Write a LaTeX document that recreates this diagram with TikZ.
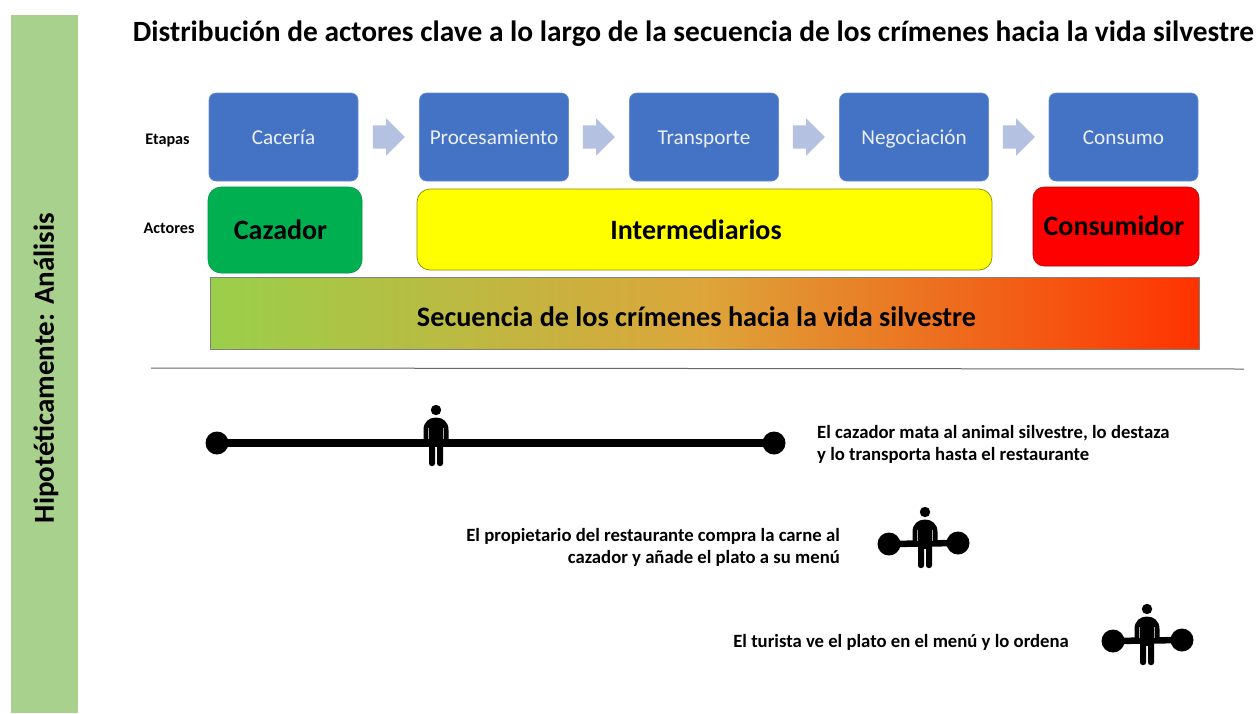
\documentclass[tikz,border=0pt]{standalone}
\usepackage{fontspec}
\setmainfont{Carlito}
\usetikzlibrary{shapes.arrows}
\definecolor{barG}{HTML}{A9D18E}
\definecolor{stageB}{HTML}{4472C4}
\definecolor{arrB}{HTML}{B4C1E1}
\definecolor{greenA}{HTML}{00B050}
\definecolor{redA}{HTML}{FF0000}
\definecolor{yelA}{HTML}{FFFF00}
\definecolor{seqL}{HTML}{9ACF4A}
\definecolor{seqM}{HTML}{DDA53A}
\definecolor{seqR}{HTML}{FF3300}
\tikzset{
 stagebox/.style={rectangle,rounded corners=7pt,fill=stageB,draw=stageB!80!white,line width=.6pt,minimum width=149pt,minimum height=88pt,text=white!90!stageB,font=\fontsize{21.2}{25}\selectfont,inner sep=0pt,text height=18pt,text depth=4pt},
 actorbox/.style={rectangle,rounded corners=13pt,minimum height=80pt,inner sep=0pt,font=\bfseries\fontsize{28}{33}\selectfont},
 blockarrow/.style={single arrow,fill=arrB,draw=none,text height=23pt,text depth=0pt,minimum height=32pt,single arrow head extend=7pt,single arrow head indent=0pt,inner sep=0pt},
 rowlabel/.style={font=\bfseries\fontsize{16.2}{19}\selectfont,inner sep=0pt},
 caption/.style={font=\bfseries\fontsize{18.7}{22}\selectfont,inner sep=0pt,align=left},
 bigdot/.style={circle,fill=black,draw=none,inner sep=0pt,minimum size=23pt},
 pics/person/.style={code={
   \fill[black] (0,0) circle (5.2pt);
   \fill[black] (-12.5,29) -- (-12.5,20) .. controls (-12.5,12) and (-7,7.5) .. (0,7.5) .. controls (7,7.5) and (12.5,12) .. (12.5,20) -- (12.5,29) -- cycle;
   \fill[black,rounded corners=2.5pt] (-7,25) -- (-7,56) -- (-1,56) -- (-1,25) -- cycle;
   \fill[black,rounded corners=2.5pt] (1,25) -- (1,56) -- (7,56) -- (7,25) -- cycle;
   \fill[black] (-7,20) rectangle (7,32);
   \fill[white!65!black] (-8.3,18) rectangle (-7.3,29);
   \fill[white!65!black] (7.3,18) rectangle (8.3,29);
   \fill[black] (-1,32) rectangle (1,37);
 }}
}
\begin{document}
\begin{tikzpicture}[x=1pt,y=-1pt]
\useasboundingbox (0,0) rectangle (1258,713);
\fill[white] (0,0) rectangle (1258,713);
\fill[barG] (11,15) rectangle (78,713);
\node[rotate=90,font=\bfseries\fontsize{29}{34}\selectfont,inner sep=0pt] (side) at (46,368) {Hipotéticamente: Análisis};
\node[font=\bfseries\fontsize{29.4}{35}\selectfont,inner sep=0pt] (title) at (693.5,34) {Distribución de actores clave a lo largo de la secuencia de los crímenes hacia la vida silvestre};

\node[rowlabel] (etapas) at (167.5,141) {Etapas};
\node[rowlabel] (actores) at (169,228) {Actores};

\node[stagebox] (s1) at (283.5,137) {Cacería};
\node[stagebox] (s2) at (494,137) {Procesamiento};
\node[stagebox] (s3) at (704,137) {Transporte};
\node[stagebox] (s4) at (914,137) {Negociación};
\node[stagebox] (s5) at (1123.5,137) {Consumo};
\node[blockarrow] (a1) at (383,137) {};
\node[blockarrow] (a2) at (593,137) {};
\node[blockarrow] (a3) at (803,137) {};
\node[blockarrow] (a4) at (1013,137) {};

\node[actorbox,fill=greenA,draw=greenA!85!black,line width=.6pt,minimum width=154pt,minimum height=86pt] (cz) at (285,230) {};
\node[font=\bfseries\fontsize{28}{33}\selectfont,inner sep=0pt] (czt) at (280.5,230) {Cazador};
\node[actorbox,fill=yelA,draw=black!45!yelA,line width=.7pt,minimum width=575pt,minimum height=81pt] (im) at (704.5,229.5) {};
\node[font=\bfseries\fontsize{28}{33}\selectfont,inner sep=0pt] (imt) at (696,230) {Intermediarios};
\node[actorbox,fill=redA,draw=red!70!black,line width=.6pt,minimum width=166pt,minimum height=79pt,rounded corners=11pt] (cm) at (1116,226.5) {};
\node[font=\bfseries\fontsize{28}{33}\selectfont,inner sep=0pt] (cmt) at (1114,226) {Consumidor};

\node[draw=black!50,line width=.8pt,inner sep=0pt,minimum width=989pt,minimum height=72pt,left color=seqL,right color=seqR,middle color=seqM] (seq) at (704.5,313) {};
\node[font=\bfseries\fontsize{28.2}{33}\selectfont,inner sep=0pt] (seqt) at (696.5,317) {Secuencia de los crímenes hacia la vida silvestre};

\coordinate (r1) at (151,368);
\coordinate (r2) at (1244,369);
\draw[black!60,line width=1pt] (r1) -- (r2);

\node[bigdot] (l1a) at (217,443) {};
\node[bigdot] (l1b) at (774,443) {};
\draw[black,line width=8pt] (l1a.center) -- (l1b.center);
\pic at (436,410) {person};

\node[bigdot] (l2a) at (889,544) {};
\node[bigdot] (l2b) at (958,543) {};
\draw[black,line width=6.5pt] (l2a.center) -- (l2b.center);
\pic at (925,512) {person};

\node[bigdot] (l3a) at (1113,641) {};
\node[bigdot] (l3b) at (1182,640) {};
\draw[black,line width=6.5pt] (l3a.center) -- (l3b.center);
\pic at (1147,609) {person};

\node[caption,anchor=west] (c1) at (817,444) {El cazador mata al animal silvestre, lo destaza\\y lo transporta hasta el restaurante};
\node[caption,anchor=east,align=right] (c2) at (840,547) {El propietario del restaurante compra la carne al\\cazador y añade el plato a su menú};
\node[caption,anchor=east] (c3) at (1069,642) {El turista ve el plato en el menú y lo ordena};
\end{tikzpicture}
\end{document}
